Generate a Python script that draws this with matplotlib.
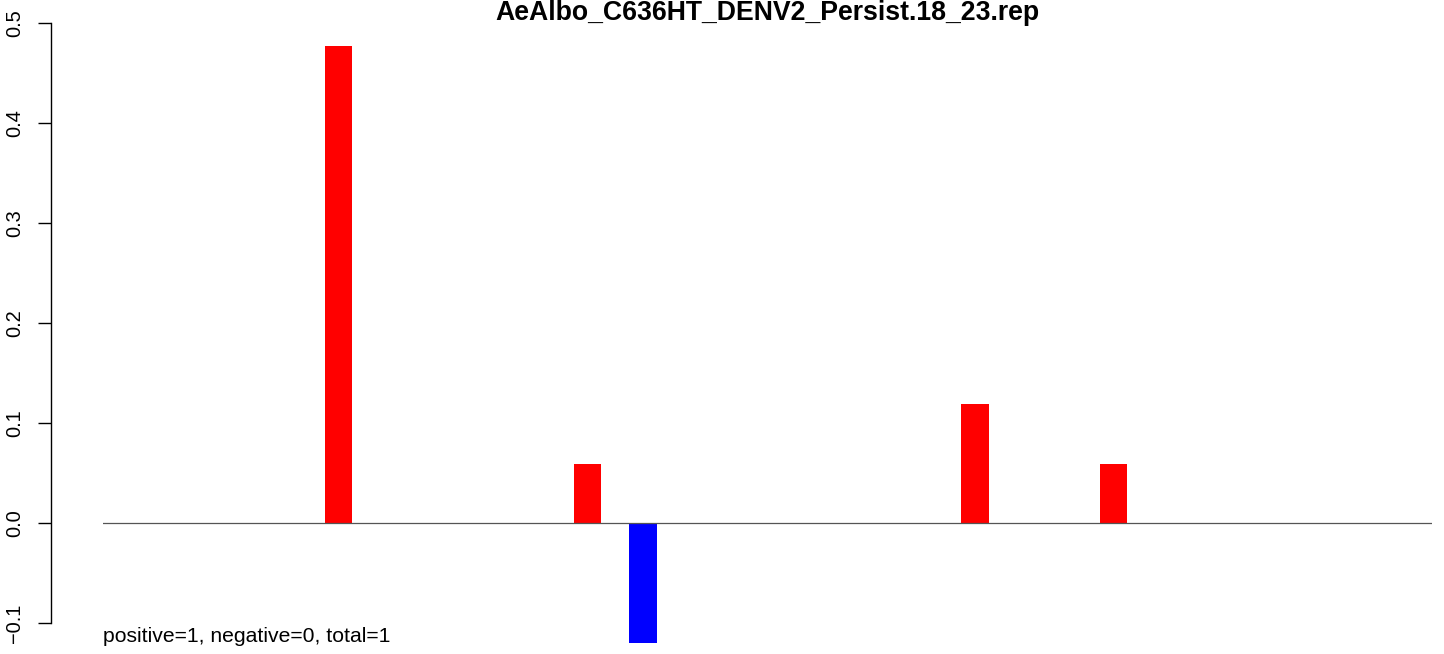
import matplotlib
matplotlib.use("Agg")
import matplotlib.pyplot as plt

title = "AeAlbo_C636HT_DENV2_Persist.18_23.rep"
note = "positive=1, negative=0, total=1"
# bin index (left edge) and value for each non-empty bin
n_bins = 48
bar_bins = [8, 17, 19, 31, 36]
bar_values = [0.477, 0.059, -0.12, 0.119, 0.059]
yticks = [-0.1, 0.0, 0.1, 0.2, 0.3, 0.4, 0.5]
ytick_labels = ["\u22120.1", "0.0", "0.1", "0.2", "0.3", "0.4", "0.5"]

values = [0.0] * n_bins
for b, v in zip(bar_bins, bar_values):
    values[b] = v
colors = ["red" if v >= 0 else "blue" for v in values]

plt.rcParams['font.family'] = ['Liberation Sans', 'DejaVu Sans']
W, H = 1444, 654
fig = plt.figure(figsize=(W / 100, H / 100), dpi=100)
ax = fig.add_axes([103 / W, 0, (1432 - 103) / W, 1])

ax.bar(range(n_bins), values, width=1.0, align='edge', color=colors, linewidth=0)
ax.axhline(0, color='#555555', lw=0.9)

ax.set_xlim(0, n_bins)
ax.set_ylim((523 - 654) / 1000, 523 / 1000)

for s in ['top', 'right', 'bottom']:
    ax.spines[s].set_visible(False)
ax.spines['left'].set_position(('outward', 52 * 0.72))
ax.spines['left'].set_bounds(-0.1, 0.5)
ax.spines['left'].set_linewidth(1.0)
ax.set_xticks([])
ax.set_yticks(yticks)
ax.set_yticklabels(ytick_labels, rotation=90, va='center', fontsize=14.4)
ax.tick_params(axis='y', length=13 * 0.72, width=1.0, pad=10)

ax.text(0, -0.114, note, fontsize=15.2, ha='left', va='center')
fig.text((103 + 1432) / 2 / W, 1 - 13 / H, title, fontsize=19.2, fontweight='bold',
         ha='center', va='center')

fig.savefig("out.png", dpi=100)
